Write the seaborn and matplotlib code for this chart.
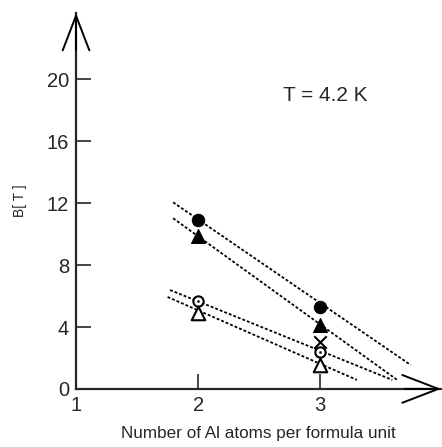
import numpy as np
import pandas as pd
import matplotlib
matplotlib.use("Agg")
import matplotlib.pyplot as plt
import seaborn as sns

# ---- data ----
x_al = [2, 3]
b_filled_circle = [10.9, 5.3]
b_filled_tri = [9.9, 4.1]
b_open_circle = [5.7, 2.4]
b_open_tri = [4.9, 1.55]
x_cross = [3]
b_cross = [3.0]

# dotted guide lines (start / end points)
line_x = [[1.795, 3.74], [1.795, 3.63], [1.77, 3.59], [1.75, 3.30]]
line_y = [[12.06, 1.55], [11.03, 0.58], [6.39, 0.58], [5.94, 0.58]]

yticks = [0, 4, 8, 12, 16, 20]
xticks = [1, 2, 3]

sns.set_style("ticks")
plt.rcParams['font.family'] = ['Liberation Sans', 'DejaVu Sans']

fig = plt.figure(figsize=(4.42, 4.47), dpi=100)
ax = fig.add_axes([0.172, 0.130, 0.826, 0.841])

# dotted lines
for lx, ly in zip(line_x, line_y):
    ax.plot(lx, ly, color="black", lw=1.3, ls=(0, (1.6, 1.1)))

df = pd.DataFrame({"x": x_al * 4,
                   "B": b_filled_circle + b_filled_tri + b_open_circle + b_open_tri,
                   "kind": ["fc"] * 2 + ["ft"] * 2 + ["oc"] * 2 + ["ot"] * 2})

sns.scatterplot(data=df[df.kind == "fc"], x="x", y="B", marker="o", s=80,
                color="black", edgecolor="black", ax=ax, zorder=3)
sns.scatterplot(data=df[df.kind == "ft"], x="x", y="B", marker="^", s=100,
                color="black", edgecolor="black", ax=ax, zorder=3)
sns.scatterplot(data=df[df.kind == "oc"], x="x", y="B", marker="o", s=55,
                facecolor="white", edgecolor="black", linewidth=1.5, ax=ax, zorder=3)
sns.scatterplot(data=df[df.kind == "oc"], x="x", y="B", marker="o", s=3,
                color="black", edgecolor="black", ax=ax, zorder=4)
sns.scatterplot(data=df[df.kind == "ot"], x="x", y="B", marker="^", s=95,
                facecolor="white", edgecolor="black", linewidth=1.5, ax=ax, zorder=3)
sns.scatterplot(x=x_cross, y=b_cross, marker="x", s=80, color="black",
                linewidth=1.5, ax=ax, zorder=3)

ax.set_xlim(1, 3.99)
ax.set_ylim(0, 24.3)
sns.despine(ax=ax)
for sp in ["left", "bottom"]:
    ax.spines[sp].set_linewidth(1.6)

ax.set_yticks(yticks)
ax.set_xticks(xticks)
ax.tick_params(axis="both", direction="in", length=11, width=1.2,
               labelsize=14.5, pad=5)
ax.tick_params(axis="x", pad=5)

# open arrowheads at the axis ends
ax.annotate("", xy=(0, 1.0), xytext=(0, 0.9), xycoords="axes fraction",
            arrowprops=dict(arrowstyle="->,head_length=1.25,head_width=0.48",
                            lw=1.4, color="black", mutation_scale=20,
                            shrinkA=0, shrinkB=0))
ax.annotate("", xy=(1.0, 0), xytext=(0.9, 0), xycoords="axes fraction",
            arrowprops=dict(arrowstyle="->,head_length=1.3,head_width=0.5",
                            lw=1.4, color="black", mutation_scale=20,
                            shrinkA=0, shrinkB=0))

ax.set_xlabel("Number of Al atoms per formula unit", fontsize=12.3, labelpad=8)
ax.set_ylabel("B[ T ]", fontsize=10, labelpad=14)
ax.text(0.567, 0.78, "T = 4.2 K", transform=ax.transAxes, fontsize=15,
        ha="left", va="center")

fig.savefig("out.png", dpi=100)
